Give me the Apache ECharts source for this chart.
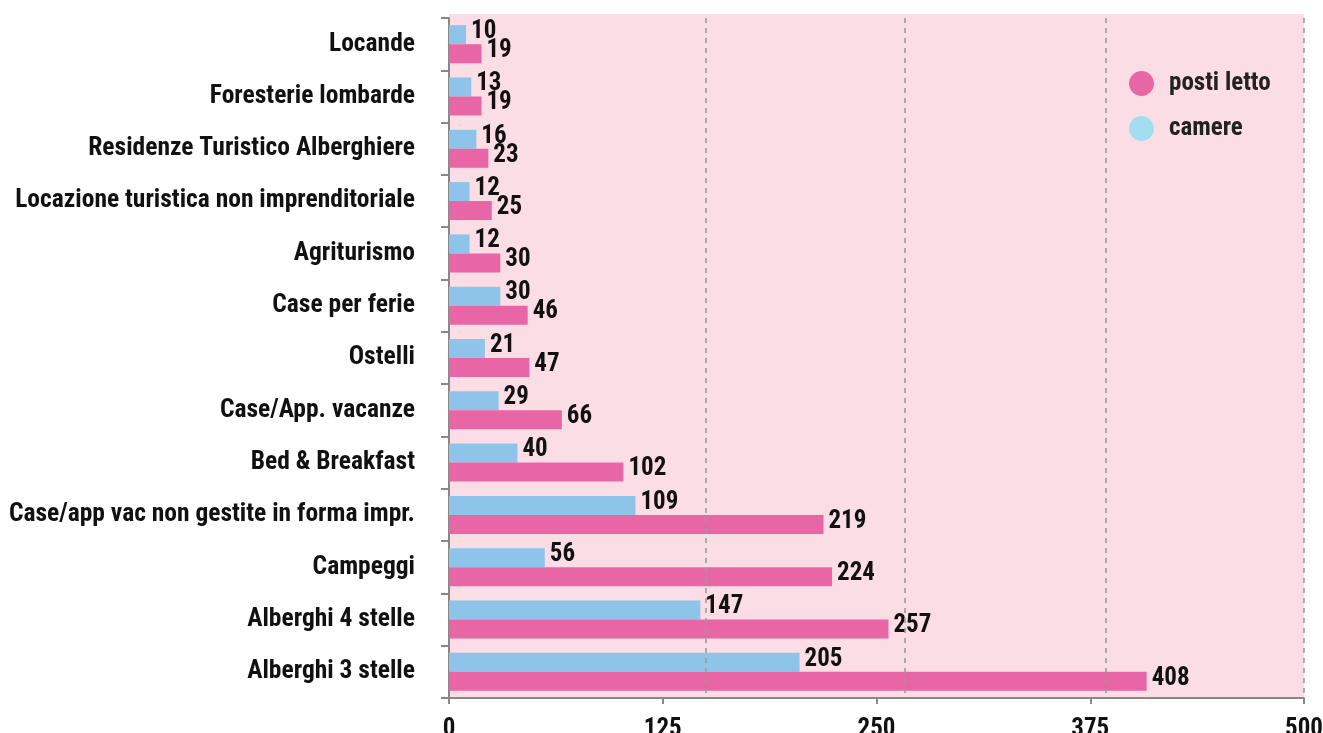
<!DOCTYPE html>
<html>
<head>
<meta charset="utf-8">
<script src="https://cdn.jsdelivr.net/npm/echarts@6/dist/echarts.min.js"></script>
<style>html,body{margin:0;padding:0;background:#fff;overflow:hidden}#c{width:1323px;height:733px}</style>
</head>
<body>
<div id="c"></div>
<script>
const categories = ["Locande","Foresterie lombarde","Residenze Turistico Alberghiere","Locazione turistica non imprenditoriale","Agriturismo","Case per ferie","Ostelli","Case/App. vacanze","Bed & Breakfast","Case/app vac non gestite in forma impr.","Campeggi","Alberghi 4 stelle","Alberghi 3 stelle"];
const camere = [10,13,16,12,12,30,21,29,40,109,56,147,205];
const postiLetto = [19,19,23,25,30,46,47,66,102,219,224,257,408];
const xTicks = [0,125,250,375,500];
const gridValues = [150,266.5,383.8,500];

const FONT = '"Roboto Condensed","Liberation Sans Narrow","DejaVu Sans Condensed",Roboto,sans-serif';
const PINK = '#e866a5', BLUE = '#8ec4e9', LEG_BLUE = '#a3def0';
const chart = echarts.init(document.getElementById('c'));
const lbl = {show:true, position:'right', distance:5, offset:[0,-3], color:'#111', fontFamily:FONT, fontWeight:'bold', fontSize:25};
chart.setOption({
  animation:false,
  graphic:[{type:'rect', z:-10, shape:{x:449,y:14,width:855,height:684}, style:{fill:'#fadde5'}}],
  grid:{left:449, right:19, top:18, bottom:35, containLabel:false, outerBoundsMode:'none'},
  legend:{
    orient:'vertical', left:1124, top:66, itemWidth:25, itemHeight:25, itemGap:20, icon:'circle',
    textStyle:{fontFamily:FONT, fontWeight:'bold', fontSize:25, color:'#222', padding:[0,0,0,10]},
    data:[{name:'posti letto', itemStyle:{color:PINK}},{name:'camere', itemStyle:{color:LEG_BLUE}}]
  },
  xAxis:{type:'value', min:xTicks[0], max:xTicks[xTicks.length-1], interval:125,
    axisLine:{show:true, lineStyle:{color:'#888', width:2}},
    axisTick:{show:true, length:6, lineStyle:{color:'#888', width:2}},
    splitLine:{show:false},
    axisLabel:{margin:19, color:'#111', fontFamily:FONT, fontWeight:'bold', fontSize:25,
      formatter:v=>xTicks.includes(v)?String(v):''}
  },
  yAxis:{type:'category', data:categories, inverse:true,
    axisLine:{show:true, lineStyle:{color:'#888', width:2}},
    axisTick:{show:true, length:8, lineStyle:{color:'#888', width:2}},
    axisLabel:{margin:34, color:'#111', fontFamily:FONT, fontWeight:'bold', fontSize:25.5}
  },
  series:[
    {name:'camere', type:'bar', data:camere, barWidth:19, barGap:'0%', itemStyle:{color:BLUE}, label:lbl,
      markLine:{silent:true, symbol:['none','none'], label:{show:false},
        lineStyle:{type:[5,5], color:'#999', width:1.5}, data:gridValues.map(v=>({xAxis:v}))}},
    {name:'posti letto', type:'bar', data:postiLetto, barWidth:19, barGap:'0%', itemStyle:{color:PINK}, label:lbl}
  ]
});
</script>
</body>
</html>
